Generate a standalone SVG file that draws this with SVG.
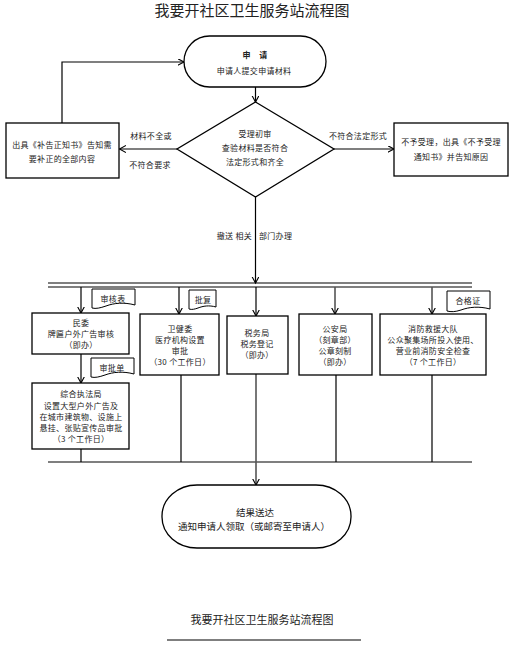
<svg xmlns="http://www.w3.org/2000/svg" width="519" height="650" viewBox="0 0 519 650">
<style>
text{font-family:"Noto Sans CJK SC","Liberation Sans",sans-serif;fill:#222;text-anchor:middle}
.t{font-size:8px;letter-spacing:0.3px}
.m{font-size:9.5px}
.box{fill:#fff;stroke:#000;stroke-width:1.3}
.ln{fill:none;stroke:#000;stroke-width:1.2}
.gr{fill:none;stroke:#555;stroke-width:1.6}
.doc{fill:#fff;stroke:#000;stroke-width:1}
</style>
<defs>
<marker id="a" markerUnits="userSpaceOnUse" markerWidth="9" markerHeight="9" refX="6.5" refY="3.5" orient="auto">
<path d="M0,0 L6.5,3.5 L0,7" fill="none" stroke="#000" stroke-width="1.1"/>
</marker>
</defs>
<text x="252" y="16" style="font-size:15px">我要开社区卫生服务站流程图</text>

<g id="connectors">
<path class="ln" d="M255.5 87 V102" marker-end="url(#a)"/>
<path class="ln" d="M177 149 H119.5" marker-end="url(#a)"/>
<path class="ln" d="M62 123 V62 H184" marker-end="url(#a)"/>
<path class="gr" d="M334 149 H394" marker-end="url(#a)"/>
<path class="ln" d="M255.5 197 V283" marker-end="url(#a)"/>
<path class="ln" d="M48 283 H472 M48 287 H472"/>
<path class="ln" d="M81 287 V313" marker-end="url(#a)"/>
<path class="ln" d="M179 287 V314" marker-end="url(#a)"/>
<path class="ln" d="M256 287 V316" marker-end="url(#a)"/>
<path class="gr" d="M335 287 V314" marker-end="url(#a)"/>
<path class="gr" d="M432 287 V314" marker-end="url(#a)"/>
<path class="ln" d="M81 354 V383" marker-end="url(#a)"/>
<path class="ln" d="M81 449 V462 M181 375 V462 M336 375 V462 M432 375 V462 M48 462 H472"/>
<path class="gr" d="M256 374 V485" marker-end="url(#a)"/>
<text class="t" x="151" y="139">材料不全或</text>
<text class="t" x="150" y="168">不符合要求</text>
<text class="t" x="358" y="139">不符合法定形式</text>
<text class="t" x="252" y="239" style="text-anchor:end">撤送 相关</text>
<text class="t" x="259" y="239" style="text-anchor:start">部门办理</text>
</g>

<g id="start">
<rect class="box" x="184" y="36" width="142" height="51" rx="25.5"/>
<text class="t" x="255" y="58" style="font-weight:bold">申　请</text>
<text class="t" x="254" y="74">申请人提交申请材料</text>
</g>

<g id="check">
<path class="box" d="M255.5 102 L334 149 L255.5 197 L177 149 Z"/>
<text class="t" x="255" y="137">受理初审</text>
<text class="t" x="255" y="151">查验材料是否符合</text>
<text class="t" x="255" y="165">法定形式和齐全</text>
</g>

<g id="supplement">
<rect class="box" x="6" y="123" width="113" height="55"/>
<text class="t" x="62" y="148">出具《补告正知书》告知需</text>
<text class="t" x="62" y="162">要补正的全部内容</text>
</g>

<g id="reject">
<rect class="box" x="394" y="123" width="114" height="53"/>
<text class="t" x="451" y="145">不予受理，出具《不予受理</text>
<text class="t" x="451" y="160">通知书》并告知原因</text>
</g>

<g id="minwei">
<rect class="box" x="32" y="313" width="97" height="41"/>
<text class="t" x="81" y="326">民委</text>
<text class="t" x="81" y="337">牌匾户外广告审核</text>
<text class="t" x="81" y="348">（即办）</text>
</g>
<g id="doc-shenhebiao">
<path class="doc" d="M92 289 H135 V305 C124 302 114 303 106 306 C100 308 96 309 92 308 Z"/>
<text class="t" x="113" y="302">审核表</text>
</g>

<g id="zonghe">
<rect class="box" x="32" y="383" width="97" height="66"/>
<text class="t" x="81" y="397">综合执法局</text>
<text class="t" x="81" y="409">设置大型户外广告及</text>
<text class="t" x="81" y="420">在城市建筑物、设施上</text>
<text class="t" x="81" y="431">悬挂、张贴宣传品审批</text>
<text class="t" x="81" y="442">（3 个工作日）</text>
</g>
<g id="doc-shenpidan">
<path class="doc" d="M91 358 H134 V374 C123 371 113 372 105 375 C99 377 95 378 91 377 Z"/>
<text class="t" x="112" y="371">审批单</text>
</g>

<g id="weijianwei">
<rect class="box" x="140" y="314" width="79" height="61"/>
<text class="t" x="180" y="332">卫健委</text>
<text class="t" x="180" y="343">医疗机构设置</text>
<text class="t" x="180" y="354">审批</text>
<text class="t" x="180" y="365">（30 个工作日）</text>
</g>
<g id="doc-pifu">
<path class="doc" d="M189 290 H216 V307 C209 305 203 306 198 308 C195 309 192 310 189 309 Z"/>
<text class="t" x="203" y="303">批复</text>
</g>

<g id="shuiwu">
<rect class="box" x="227" y="316" width="61" height="58"/>
<text class="t" x="257" y="336">税务局</text>
<text class="t" x="257" y="347">税务登记</text>
<text class="t" x="257" y="358">（即办）</text>
</g>

<g id="gongan">
<rect class="box" x="299" y="314" width="73" height="61"/>
<text class="t" x="335" y="332">公安局</text>
<text class="t" x="335" y="343">（刻章部）</text>
<text class="t" x="335" y="354">公章刻制</text>
<text class="t" x="335" y="365">（即办）</text>
</g>

<g id="xiaofang">
<rect class="box" x="380" y="314" width="106" height="61"/>
<text class="t" x="433" y="332">消防救援大队</text>
<text class="t" x="433" y="343">公众聚集场所投入使用、</text>
<text class="t" x="433" y="354">营业前消防安全检查</text>
<text class="t" x="433" y="365">（7 个工作日）</text>
</g>
<g id="doc-hegezheng">
<path class="doc" d="M447 291 H490 V309 C479 306 469 307 461 310 C455 312 451 312 447 311 Z"/>
<text class="t" x="468" y="304">合格证</text>
</g>

<g id="end">
<rect class="box" x="162" y="485" width="189" height="63" rx="35" ry="31"/>
<text class="m" x="255" y="516">结果送达</text>
<text class="m" x="254" y="530">通知申请人领取（或邮寄至申请人）</text>
</g>

<text x="262" y="624" style="font-size:11px">我要开社区卫生服务站流程图</text>
<path d="M167 640 H361" stroke="#000" stroke-width="1.2"/>
</svg>
